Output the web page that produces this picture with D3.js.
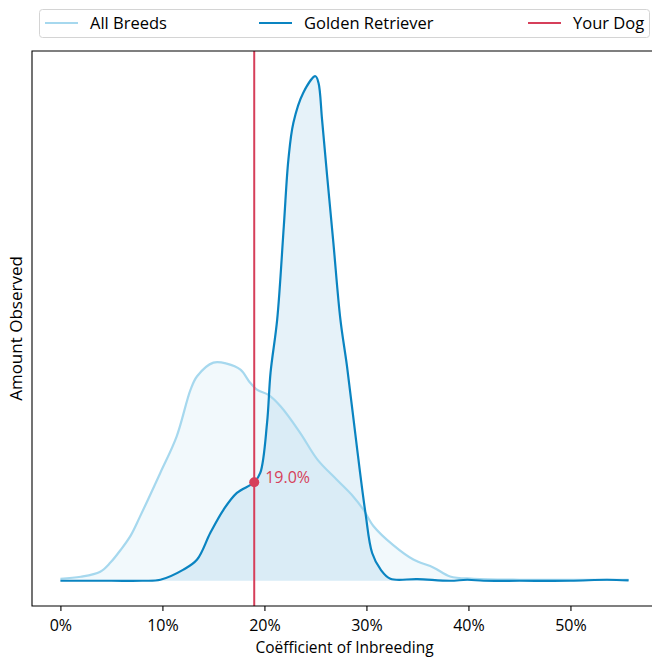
<!DOCTYPE html>
<html>
<head>
<meta charset="utf-8">
<script src="https://cdn.jsdelivr.net/npm/d3@7"></script>
<style>
  body { margin: 0; background: #fff; }
  svg { font-family: "Open Sans", "Noto Sans", sans-serif; display: block; }
  .tick text { font-family: "Open Sans", "Noto Sans", sans-serif; font-size: 16px; fill: #000; }
</style>
</head>
<body>
<div id="chart"></div>
<script>
var width = 652, height = 657;

// coefficient of inbreeding (%) and amount observed (relative)
var allBreedsX = [0, 2, 3.9, 4.9, 5.9, 6.9, 7.8, 9.8, 11.4, 12.75, 13.4, 15.0, 16.3, 17.65, 18.6, 19.3, 20.4,
  21.6, 23.5, 25.2, 27.1, 28.7, 29.7, 30.7, 32.6, 34.6, 36.6, 38.2, 40.5, 45, 50, 55.7];
var allBreedsY = [0.4, 0.8, 1.8, 3.6, 6.1, 9.0, 12.7, 21.4, 28.6, 37.8, 40.5, 43.2, 43.0, 41.8, 39.2, 37.8, 36.8,
  34.5, 29.3, 24.0, 20.0, 16.7, 14.1, 10.8, 7.1, 4.2, 2.6, 0.85, 0.4, 0.2, 0.2, 0.2];

var goldenX = [0, 5, 8, 9.8, 12.06, 13.4, 14.7, 16.0, 17.3, 19.0, 19.6, 20.26, 20.6, 21.25, 21.9,
  22.35, 22.84, 23.8, 25.0, 25.3, 25.65, 26.15, 26.76, 27.45, 28.1, 29.1, 29.9, 30.56, 31.4, 32.35,
  35.0, 38.2, 39.9, 41.5, 45, 50, 53.6, 55.7];
var goldenY = [0, 0, 0, 0.2, 2.2, 4.2, 9.5, 14.1, 17.4, 19.5, 21.4, 31.3, 41.2, 51.7, 70.2,
  83.4, 90.7, 96.6, 99.9, 98.6, 91.3, 80.1, 66.9, 51.7, 42.4, 25.9, 13.5, 5.5, 2.2, 0.4,
  0.34, 0, 0.2, 0, 0, 0, 0.2, 0.06];

var yourDog = 19.0;
var xTicks = [0, 10, 20, 30, 40, 50];
var legendLabels = ["All Breeds", "Golden Retriever", "Your Dog"];

var colAll = "#a6d8ee", colGolden = "#0a84c1", colDog = "#d63f5a";

var allBreeds = allBreedsX.map(function(d, i) { return [d, allBreedsY[i]]; });
var golden = goldenX.map(function(d, i) { return [d, goldenY[i]]; });

var svg = d3.select("#chart").append("svg")
  .attr("width", width)
  .attr("height", height);

// matplotlib style 5% margins
var xmax = d3.max(allBreedsX.concat(goldenX)), ymax = d3.max(goldenY);
var x = d3.scaleLinear()
  .domain([-0.05 * xmax, xmax * 1.05])
  .range([32, 657]);
var y = d3.scaleLinear()
  .domain([-0.05 * ymax, ymax * 1.05])
  .range([606, 51]);

var curve = d3.curveCatmullRom.alpha(0.5);
var line = d3.line()
  .x(function(d) { return x(d[0]); })
  .y(function(d) { return y(d[1]); })
  .curve(curve);
var area = d3.area()
  .x(function(d) { return x(d[0]); })
  .y0(y(0))
  .y1(function(d) { return y(d[1]); })
  .curve(curve);

svg.append("path").datum(allBreeds)
  .attr("d", area).attr("fill", colAll).attr("fill-opacity", 0.15);
svg.append("path").datum(golden)
  .attr("d", area).attr("fill", colGolden).attr("fill-opacity", 0.1);
svg.append("path").datum(allBreeds)
  .attr("d", line).attr("fill", "none").attr("stroke", colAll).attr("stroke-width", 2.2);
svg.append("path").datum(golden)
  .attr("d", line).attr("fill", "none").attr("stroke", colGolden).attr("stroke-width", 2.2);

// your dog
svg.append("line")
  .attr("x1", x(yourDog)).attr("x2", x(yourDog))
  .attr("y1", y.range()[1]).attr("y2", y.range()[0])
  .attr("stroke", colDog).attr("stroke-width", 2);
var dogAmount = goldenY[goldenX.indexOf(yourDog)];
svg.append("circle")
  .attr("cx", x(yourDog)).attr("cy", y(dogAmount)).attr("r", 5)
  .attr("fill", colDog);
svg.append("text")
  .attr("x", x(yourDog) + 11).attr("y", y(dogAmount) - 5)
  .attr("dy", "0.35em")
  .attr("fill", colDog)
  .style("font-size", "16px")
  .text(yourDog.toFixed(1) + "%");

// spines
svg.append("path")
  .attr("d", "M657,51H32V606H657")
  .attr("fill", "none").attr("stroke", "#000").attr("stroke-width", 1.1);

var xAxis = svg.append("g")
  .attr("transform", "translate(0,606)")
  .call(d3.axisBottom(x).tickValues(xTicks).tickSize(5).tickPadding(9)
    .tickFormat(function(d) { return d + "%"; }));
xAxis.select(".domain").remove();
xAxis.selectAll(".tick line").attr("stroke", "#000").attr("stroke-width", 1.1);

svg.append("text")
  .attr("x", (x.range()[0] + x.range()[1]) / 2).attr("y", 653)
  .attr("text-anchor", "middle")
  .style("font-size", "15.5px")
  .text("Coëfficient of Inbreeding");

svg.append("text")
  .attr("transform", "translate(22," + (y.range()[0] + y.range()[1]) / 2 + ") rotate(-90)")
  .attr("text-anchor", "middle")
  .style("font-size", "17px")
  .text("Amount Observed");

// legend
var legend = svg.append("g").attr("class", "legend");
legend.append("rect")
  .attr("x", 39.5).attr("y", 9.5).attr("width", 610).attr("height", 28).attr("rx", 3)
  .attr("fill", "#fff").attr("fill-opacity", 0.8)
  .attr("stroke", "#d4d4d4");
var legendX = [45, 259, 528];
var legendCol = [colAll, colGolden, colDog];
var item = legend.selectAll(".item")
  .data(legendLabels)
  .enter().append("g")
    .attr("transform", function(d, i) { return "translate(" + legendX[i] + ",23)"; });
item.append("line")
  .attr("x2", 33)
  .attr("stroke", function(d, i) { return legendCol[i]; })
  .attr("stroke-width", 2.2);
item.append("text")
  .attr("x", 45).attr("dy", "0.35em")
  .style("font-size", "16.5px")
  .text(function(d) { return d; });
</script>
</body>
</html>
